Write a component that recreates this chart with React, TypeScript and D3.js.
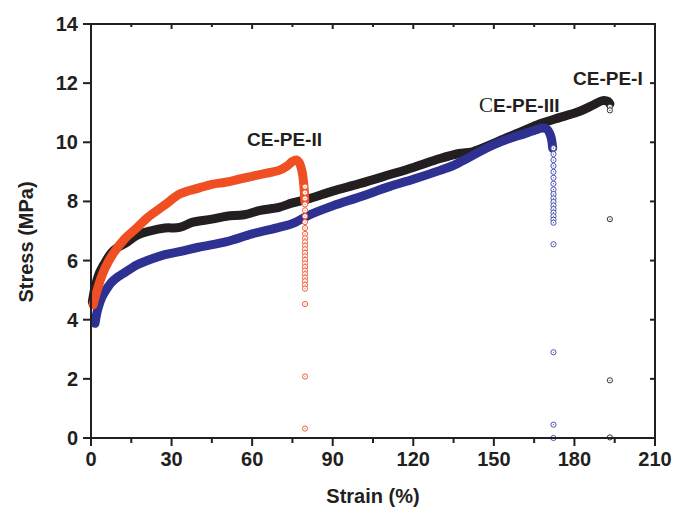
import React from "react";
import * as d3 from "d3";

// CE-PE-I (black)
const strainI = [0.5, 1.5, 3, 5, 7.5, 10, 13, 17, 22, 27.5, 33, 38, 45, 50.5, 57, 63, 70, 75, 81.5, 90, 100, 111, 120, 130, 137, 142, 147, 152, 160, 167, 175, 182, 187, 190.5, 192.5, 193.2];
const stressI = [4.6, 5.1, 5.55, 5.9, 6.25, 6.45, 6.6, 6.85, 7.0, 7.1, 7.12, 7.3, 7.4, 7.5, 7.55, 7.7, 7.8, 7.95, 8.1, 8.35, 8.6, 8.9, 9.15, 9.45, 9.62, 9.68, 9.85, 10.05, 10.35, 10.62, 10.85, 11.05, 11.26, 11.41, 11.38, 11.3];
const dropStrainI = 193.2;
const dropStressI = [11.2, 11.08, 7.4, 1.95, 0.02];

// CE-PE-II (orange)
const strainII = [0.8, 2, 3.5, 5.2, 8, 12.7, 17, 21, 27.5, 33, 40, 45, 50, 55, 60, 65, 70, 73, 75, 76.5, 77.5, 78.6, 79.3, 79.6];
const stressII = [4.5, 4.9, 5.35, 5.74, 6.2, 6.75, 7.1, 7.45, 7.88, 8.25, 8.45, 8.58, 8.65, 8.75, 8.85, 8.95, 9.05, 9.2, 9.35, 9.4, 9.32, 9.0, 8.5, 8.0];
const dropStrainII = 79.7;
const dropStressII = [8.5, 8.3, 8.1, 7.9, 7.7, 7.5, 7.3, 7.1, 6.9, 6.75, 6.62, 6.5, 6.38, 6.26, 6.14, 6.02, 5.9, 5.78, 5.66, 5.54, 5.42, 5.3, 5.18, 5.05, 4.53, 2.08, 0.32];

// CE-PE-III (blue)
const strainIII = [1.5, 2.5, 4, 5.2, 7.5, 10, 12.7, 17, 21, 27.5, 33, 40, 50.5, 60, 70, 75, 81.5, 90, 100, 111, 120, 130, 135, 140, 145, 150, 155, 160, 165, 168, 169.8, 171.2, 171.9];
const stressIII = [3.88, 4.35, 4.75, 4.95, 5.25, 5.45, 5.6, 5.85, 6.0, 6.2, 6.3, 6.45, 6.64, 6.9, 7.12, 7.25, 7.55, 7.85, 8.15, 8.5, 8.75, 9.05, 9.22, 9.45, 9.7, 9.92, 10.1, 10.25, 10.4, 10.48, 10.44, 10.2, 9.8];
const dropStrainIII = 172.2;
const dropStressIII = [9.8, 9.6, 9.4, 9.2, 9.0, 8.8, 8.6, 8.4, 8.25, 8.1, 7.98, 7.86, 7.74, 7.62, 7.5, 7.38, 7.28, 6.55, 2.9, 0.45, 0.0];

const xTicks = [0, 30, 60, 90, 120, 150, 180, 210];
const xMinorTicks = [15, 45, 75, 105, 135, 165, 195];
const yTicks = [0, 2, 4, 6, 8, 10, 12, 14];

const W = 673;
const H = 513;
const L = 91, R = 655, T = 24, B = 438;

const BLACK = "#231f20";
const ORANGE = "#f04e23";
const BLUE = "#2e3192";

export default function App() {
  const x = d3.scaleLinear().domain([0, 210]).range([L, R]);
  const y = d3.scaleLinear().domain([0, 14]).range([B, T]);
  const line = d3
    .line<[number, number]>()
    .x((d) => x(d[0]))
    .y((d) => y(d[1]))
    .curve(d3.curveCatmullRom.alpha(0.5));

  const zip = (a: number[], b: number[]) => a.map((v, i) => [v, b[i]] as [number, number]);

  const font = "'Liberation Sans', Arial, sans-serif";

  const series = [
    { s: strainI, v: stressI, ds: dropStrainI, dv: dropStressI, c: BLACK, pc: "#333" },
    { s: strainIII, v: stressIII, ds: dropStrainIII, dv: dropStressIII, c: BLUE, pc: "#4a55b0" },
    { s: strainII, v: stressII, ds: dropStrainII, dv: dropStressII, c: ORANGE, pc: "#f0603e" },
  ];

  return (
    <svg
      width={W}
      height={H}
      style={{ position: "absolute", left: 0, top: 0, background: "#fff" }}
      fontFamily={font}
    >
      <rect x={0} y={0} width={W} height={H} fill="#fff" />
      {series.map((sr, i) => (
        <g key={i}>
          <path
            d={line(zip(sr.s, sr.v)) || ""}
            fill="none"
            stroke={sr.c}
            strokeWidth={9}
            strokeLinecap="round"
            strokeLinejoin="round"
          />
          {sr.dv.map((v, j) => (
            <g key={j}>
              <circle cx={x(sr.ds)} cy={y(v)} r={2.6} fill="#fff" stroke={sr.pc} strokeWidth={1} />
              <circle cx={x(sr.ds)} cy={y(v)} r={0.6} fill={sr.pc} />
            </g>
          ))}
        </g>
      ))}

      {/* frame */}
      <rect x={L} y={T} width={R - L} height={B - T} fill="none" stroke={BLACK} strokeWidth={2} />

      {/* x ticks bottom */}
      {xTicks.map((t) => (
        <g key={"xt" + t}>
          <line x1={x(t)} x2={x(t)} y1={B} y2={B + 8} stroke={BLACK} strokeWidth={2} />
          <line x1={x(t)} x2={x(t)} y1={T} y2={T + 5} stroke={BLACK} strokeWidth={2} />
          <text x={x(t)} y={466} textAnchor="middle" fontSize={20} fontWeight="bold" fill={BLACK}>
            {t}
          </text>
        </g>
      ))}
      {xMinorTicks.map((t) => (
        <g key={"xm" + t}>
          <line x1={x(t)} x2={x(t)} y1={B} y2={B + 5} stroke={BLACK} strokeWidth={2} />
          <line x1={x(t)} x2={x(t)} y1={T} y2={T + 3} stroke={BLACK} strokeWidth={2} />
        </g>
      ))}

      {/* y ticks */}
      {yTicks.map((t) => (
        <g key={"yt" + t}>
          <line x1={L - 8} x2={L} y1={y(t)} y2={y(t)} stroke={BLACK} strokeWidth={2} />
          <line x1={R - 5} x2={R} y1={y(t)} y2={y(t)} stroke={BLACK} strokeWidth={2} />
          <text x={78} y={y(t) + 7} textAnchor="end" fontSize={20} fontWeight="bold" fill={BLACK}>
            {t}
          </text>
        </g>
      ))}

      {/* axis titles */}
      <text x={373} y={503} textAnchor="middle" fontSize={20} fontWeight="bold" fill={BLACK}>
        Strain (%)
      </text>
      <text
        transform={`translate(33,242) rotate(-90)`}
        textAnchor="middle"
        fontSize={20}
        fontWeight="bold"
        fill={BLACK}
      >
        Stress (MPa)
      </text>

      {/* series labels */}
      <text x={247} y={146} fontSize={19} fontWeight="bold" fill={BLACK}>
        CE-PE-II
      </text>
      <text x={479} y={112} fontSize={19} fontWeight="bold" fill={BLACK}>
        <tspan fontFamily="'Liberation Serif', 'Times New Roman', serif" fontWeight="normal" fontSize={21}>C</tspan>
        E-PE-III
      </text>
      <text x={573} y={85} fontSize={19} fontWeight="bold" fill={BLACK}>
        CE-PE-I
      </text>
    </svg>
  );
}
